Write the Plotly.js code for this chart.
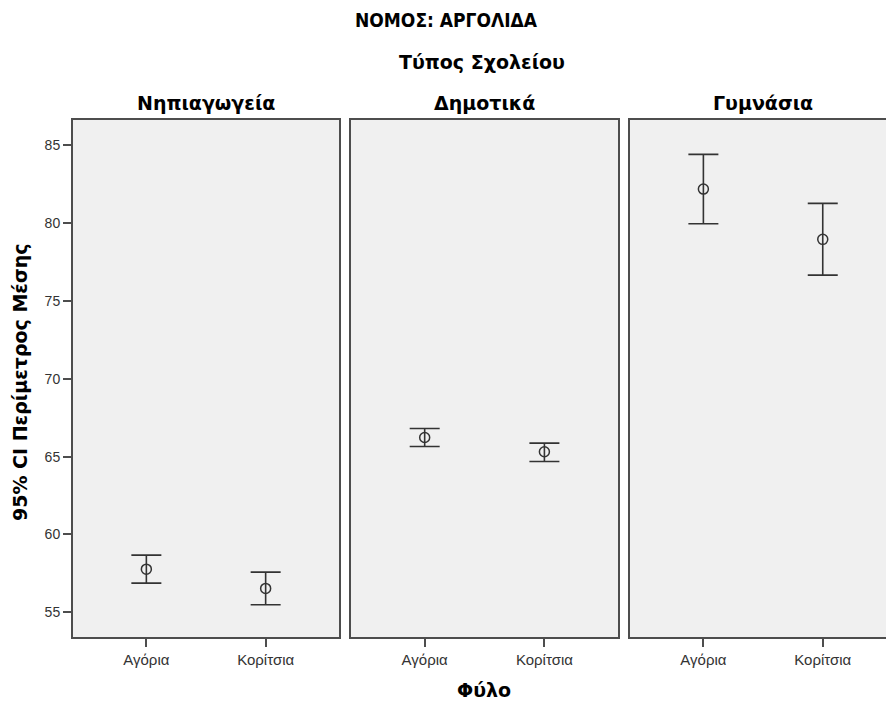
<!DOCTYPE html>
<html>
<head>
<meta charset="utf-8">
<script src="https://cdn.plot.ly/plotly-3.0.1.min.js"></script>
<style>html,body{margin:0;padding:0;background:#fff;}#chart{width:886px;height:704px;}</style>
</head>
<body>
<div id="chart"></div>
<script>
const categories = ['Αγόρια', 'Κορίτσια'];
const panelNames = ['Νηπιαγωγεία', 'Δημοτικά', 'Γυμνάσια'];
const yTicks = [55, 60, 65, 70, 75, 80, 85];

const meanNip = [57.77, 56.53];
const upperNip = [58.67, 57.58];
const lowerNip = [56.87, 55.48];

const meanDim = [66.23, 65.31];
const upperDim = [66.81, 65.87];
const lowerDim = [65.65, 64.69];

const meanGym = [82.19, 78.96];
const upperGym = [84.42, 81.27];
const lowerGym = [79.96, 76.66];

const mainTitle = 'ΝΟΜΟΣ: ΑΡΓΟΛΙΔΑ';
const panelGroupTitle = 'Τύπος Σχολείου';
const xTitle = 'Φύλο';
const yTitle = '95% CI Περίμετρος Μέσης';

const series = [
  {mean: meanNip, upper: upperNip, lower: lowerNip},
  {mean: meanDim, upper: upperDim, lower: lowerDim},
  {mean: meanGym, upper: upperGym, lower: lowerGym}
];

const ink = '#333333';
const frame = '#4d4d4d';
const tickFontFamily = 'Liberation Sans, Arial, sans-serif';
const titleFontFamily = 'DejaVu Sans, Verdana, sans-serif';
const narrowFontFamily = 'DejaVu Sans Condensed, Liberation Sans Narrow, Arial Narrow, sans-serif';

const traces = series.map((s, i) => ({
  type: 'scatter',
  mode: 'markers',
  x: categories,
  y: s.mean,
  xaxis: i === 0 ? 'x' : 'x' + (i + 1),
  yaxis: i === 0 ? 'y' : 'y' + (i + 1),
  marker: {symbol: 'circle-open', size: 10, color: ink, line: {width: 1.5, color: ink}},
  error_y: {
    type: 'data', symmetric: false,
    array: s.upper.map((u, k) => u - s.mean[k]),
    arrayminus: s.mean.map((m, k) => m - s.lower[k]),
    color: ink, thickness: 1.6, width: 15
  },
  hoverinfo: 'skip',
  showlegend: false
}));

const yRange = [53.41, 86.63];
const domains = [[0, 0.3272], [0.342, 0.6704], [0.6851, 1]];
const xRanges = [[-0.615, 1.615], [-0.615, 1.615], [-0.615, 1.53]];

const layout = {
  width: 886, height: 704,
  margin: {l: 73, r: 0, t: 120, b: 67},
  paper_bgcolor: '#ffffff',
  plot_bgcolor: '#f0f0f0',
  font: {family: tickFontFamily, color: ink, size: 14},
  showlegend: false,
  annotations: [],
  shapes: []
};

for (let i = 0; i < 3; i++) {
  const xa = i === 0 ? 'xaxis' : 'xaxis' + (i + 1);
  const ya = i === 0 ? 'yaxis' : 'yaxis' + (i + 1);
  const yid = i === 0 ? 'y' : 'y' + (i + 1);
  const xid = i === 0 ? 'x' : 'x' + (i + 1);
  layout[xa] = {
    domain: domains[i], anchor: yid, type: 'category', range: xRanges[i],
    showgrid: false, zeroline: false, showline: true, mirror: true,
    linecolor: frame, linewidth: 2,
    ticks: 'outside', ticklen: 8, tickwidth: 2, tickcolor: frame,
    tickfont: {family: tickFontFamily, size: 15, color: ink},
    fixedrange: true
  };
  layout[ya] = {
    anchor: xid, range: yRange, tickvals: yTicks, ticktext: yTicks.map(String),
    showgrid: false, zeroline: false, showline: true, mirror: i < 2,
    linecolor: frame, linewidth: 2,
    ticks: i === 0 ? 'outside' : '', ticklen: 8, tickwidth: 2, tickcolor: frame,
    showticklabels: i === 0,
    tickfont: {family: tickFontFamily, size: 14, color: ink},
    fixedrange: true
  };
  if (i > 0) layout[ya].matches = 'y';
}

const W = 813;
const H = 517;
const panelCenters = [206, 484.5, 763];
panelNames.forEach((name, i) => {
  layout.annotations.push({
    text: '<b>' + name + '</b>', xref: 'paper', yref: 'paper',
    x: (panelCenters[i] - 73) / W, y: 1, yshift: 17,
    xanchor: 'center', yanchor: 'middle', showarrow: false,
    font: {family: titleFontFamily, size: 19, color: '#000'}
  });
});
layout.annotations.push({
  text: '<b>' + panelGroupTitle + '</b>', xref: 'paper', yref: 'paper',
  x: (482 - 73) / W, y: 1, yshift: 58, xanchor: 'center', yanchor: 'middle', showarrow: false,
  font: {family: titleFontFamily, size: 19, color: '#000'}
});
layout.annotations.push({
  text: '<b>' + mainTitle + '</b>', xref: 'paper', yref: 'paper',
  x: (446 - 73) / W, y: 1, yshift: 100, xanchor: 'center', yanchor: 'middle', showarrow: false,
  font: {family: narrowFontFamily, size: 19, color: '#000'}
});
layout.annotations.push({
  text: '<b>' + xTitle + '</b>', xref: 'paper', yref: 'paper',
  x: (484 - 73) / W, y: 0, yshift: -53, xanchor: 'center', yanchor: 'middle', showarrow: false,
  font: {family: titleFontFamily, size: 19, color: '#000'}
});
layout.annotations.push({
  text: '<b>' + yTitle + '</b>', xref: 'paper', yref: 'paper',
  x: 0, y: 1 - (382 - 120) / H, xshift: -53, yanchor: 'middle', xanchor: 'center', showarrow: false,
  textangle: -90,
  font: {family: titleFontFamily, size: 19, color: '#000'}
});

Plotly.newPlot('chart', traces, layout, {displayModeBar: false, staticPlot: true});
</script>
</body>
</html>
